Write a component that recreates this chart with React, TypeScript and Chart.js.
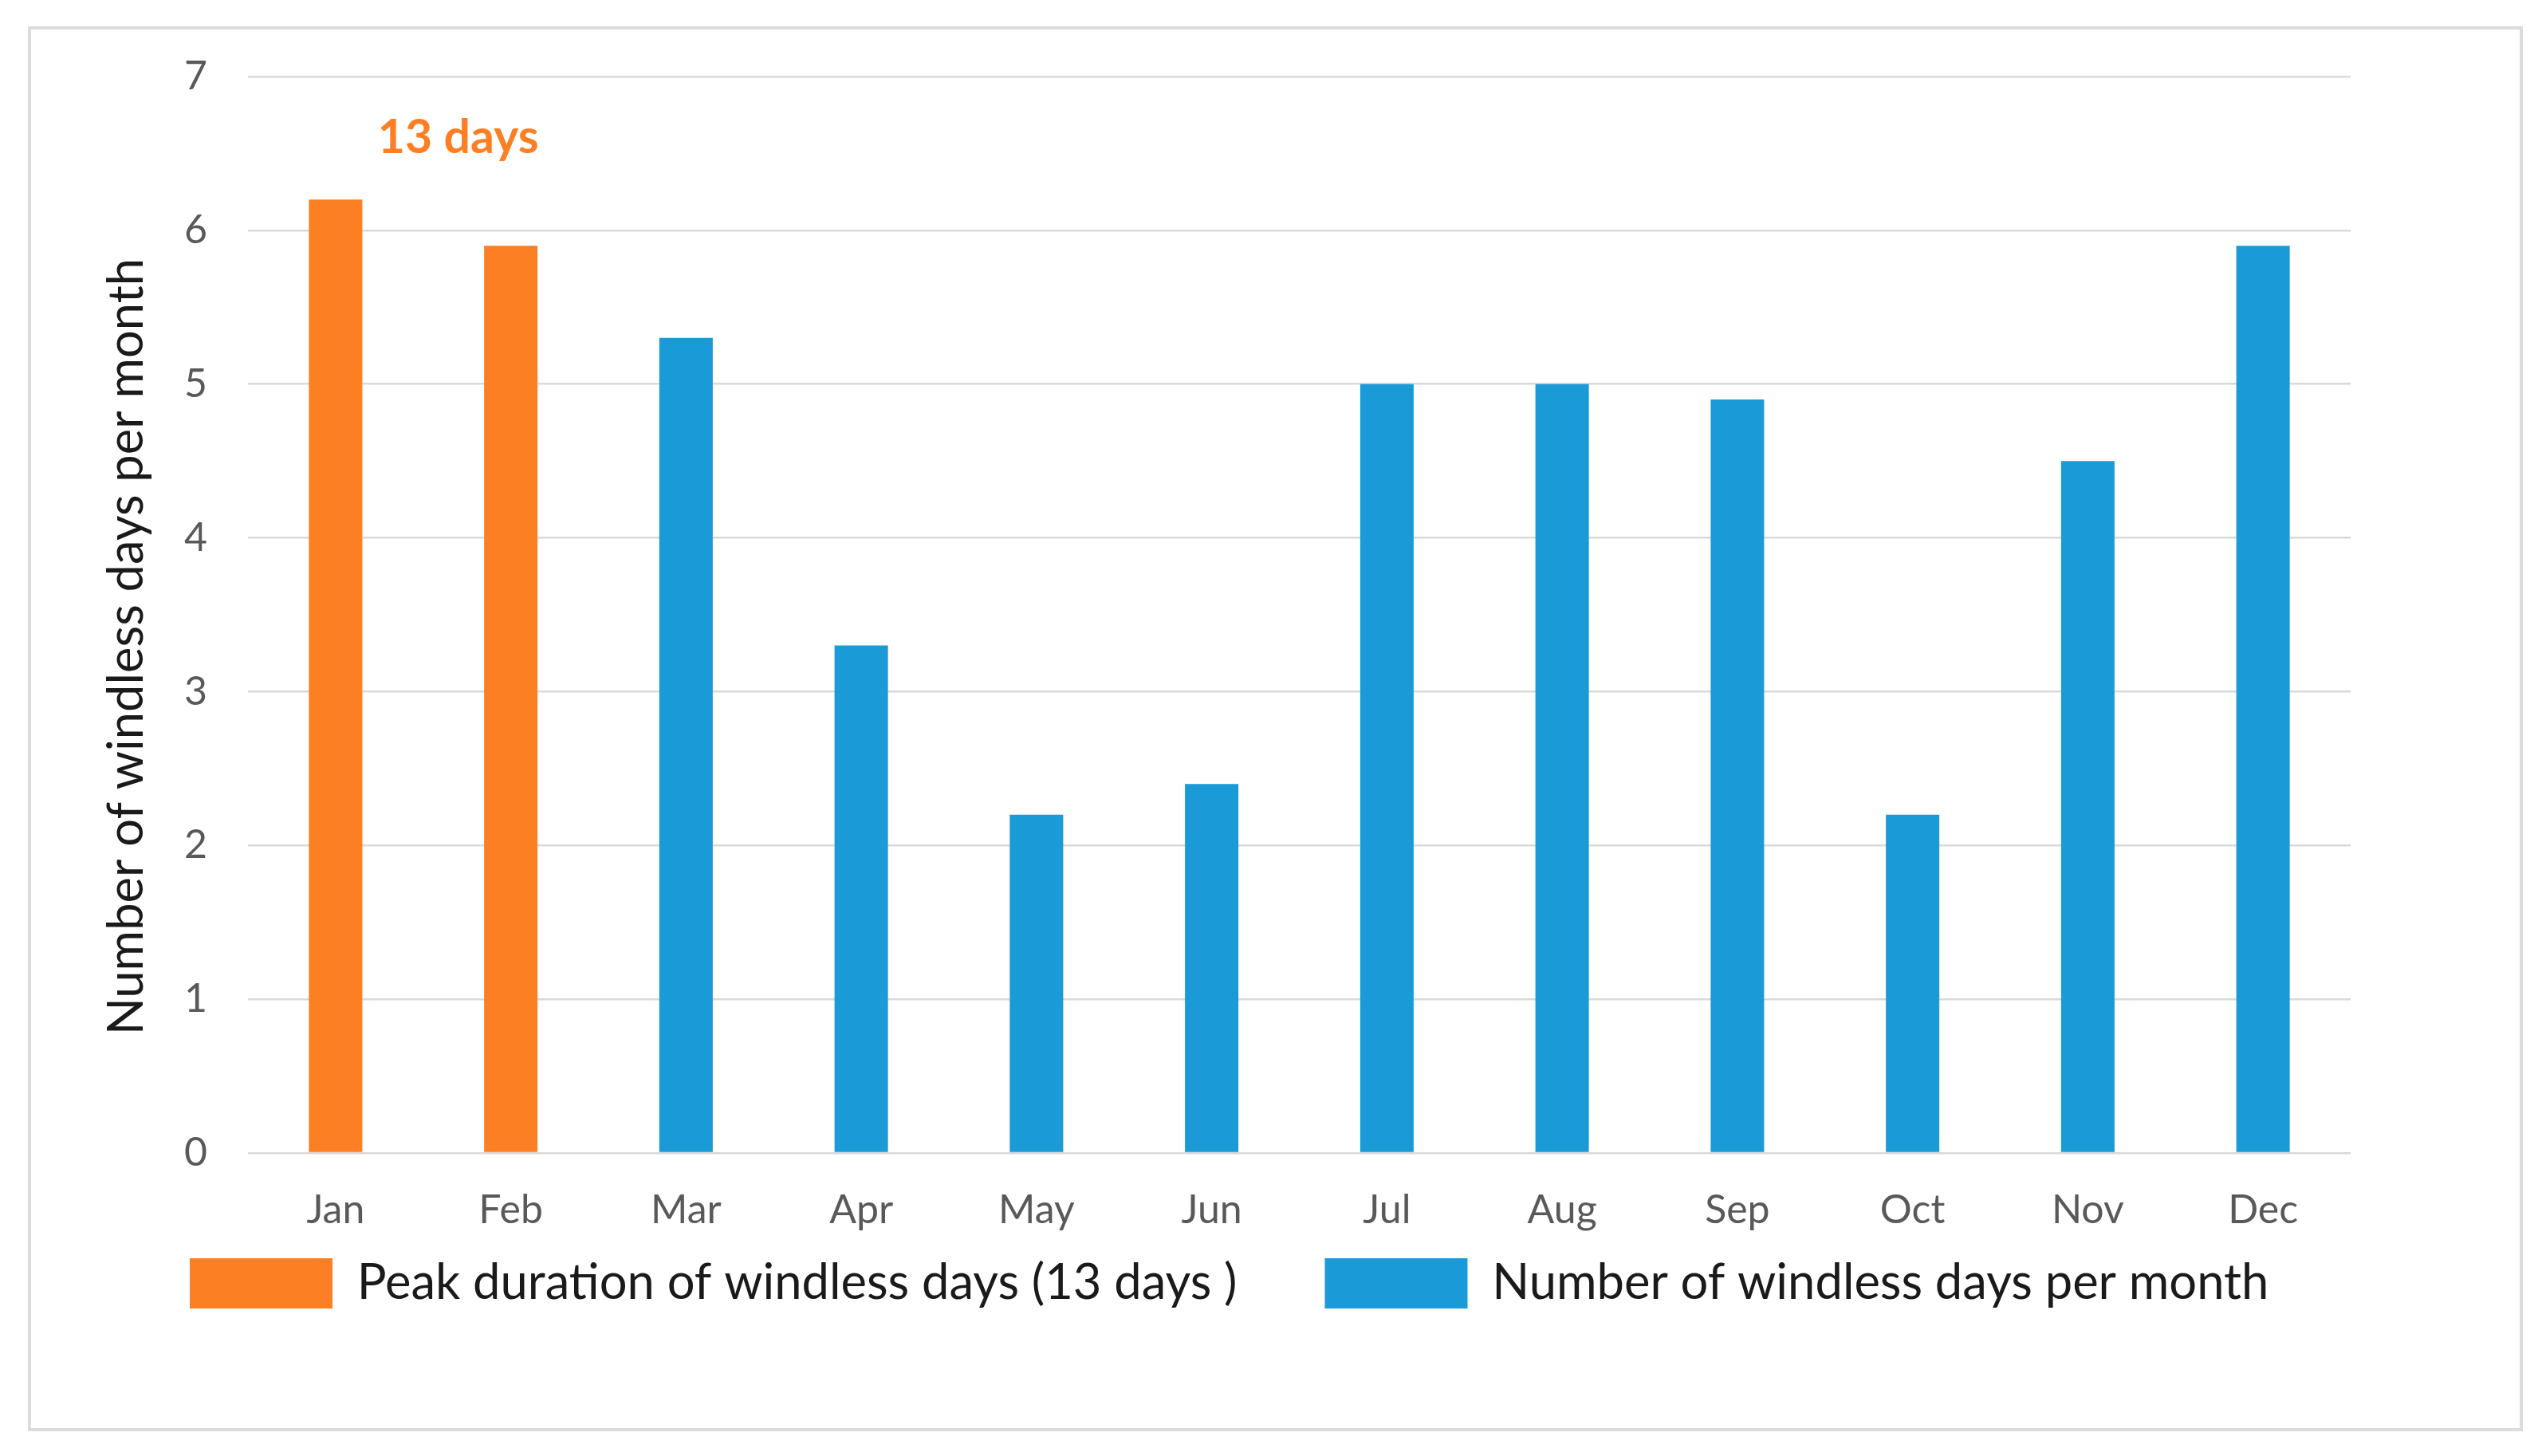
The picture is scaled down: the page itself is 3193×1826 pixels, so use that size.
import React, { useEffect, useRef } from "react";
import { Chart, registerables } from "chart.js";

Chart.register(...registerables);

const months = ["Jan", "Feb", "Mar", "Apr", "May", "Jun", "Jul", "Aug", "Sep", "Oct", "Nov", "Dec"];
const peakValues = [6.2, 5.9, null, null, null, null, null, null, null, null, null, null];
const monthlyValues = [null, null, 5.3, 3.3, 2.2, 2.4, 5.0, 5.0, 4.9, 2.2, 4.5, 5.9];
const peakLabel = "Peak duration of windless days (13 days )";
const monthlyLabel = "Number of windless days per month";
const yAxisTitle = "Number of windless days per month";
const yMin = 0;
const yMax = 7;
const yStep = 1;
const annotationText = "13 days";
const annotationIndex = 0.7;
const annotationValue = 6.6;

const ORANGE = "#FD7F24";
const BLUE = "#1A9AD6";
const FONT = "Lato, 'Open Sans', sans-serif";

const W = 3193;
const H = 1826;

export default function App() {
  const canvasRef = useRef<HTMLCanvasElement | null>(null);

  useEffect(() => {
    let chart: Chart | null = null;
    let cancelled = false;

    const textPlugin = {
      id: "extraText",
      afterDatasetsDraw(c: any) {
        const { ctx, scales, chartArea } = c;
        const x = scales.x;
        const y = scales.y;
        ctx.save();
        ctx.font = `bold 59px ${FONT}`;
        ctx.fillStyle = ORANGE;
        ctx.textAlign = "center";
        ctx.textBaseline = "middle";
        ctx.fillText(annotationText, x.getPixelForValue(annotationIndex), y.getPixelForValue(annotationValue));
        ctx.restore();

        // y-axis title (centred a little below the plot-area middle, as in the original)
        ctx.save();
        ctx.font = `61.5px ${FONT}`;
        ctx.fillStyle = "#1a1a1a";
        ctx.textAlign = "center";
        ctx.textBaseline = "middle";
        ctx.translate(y.left + 31, (chartArea.top + chartArea.bottom) / 2 + 40);
        ctx.rotate(-Math.PI / 2);
        ctx.fillText(yAxisTitle, 0, 0);
        ctx.restore();
      },
    };

    const build = () => {
      if (cancelled || !canvasRef.current) return;
      chart = new Chart(canvasRef.current, {
        type: "bar",
        data: {
          labels: months,
          datasets: [
            {
              label: peakLabel,
              data: peakValues,
              backgroundColor: ORANGE,
              borderColor: ORANGE,
              borderWidth: 0,
              grouped: false,
              categoryPercentage: 1,
              barPercentage: 0.305,
            } as any,
            {
              label: monthlyLabel,
              data: monthlyValues,
              backgroundColor: BLUE,
              borderColor: BLUE,
              borderWidth: 0,
              grouped: false,
              categoryPercentage: 1,
              barPercentage: 0.305,
            } as any,
          ],
        },
        options: {
          responsive: false,
          animation: false,
          devicePixelRatio: 1,
          layout: { padding: { top: 96, left: 128, right: 20, bottom: 175 } },
          plugins: {
            tooltip: { enabled: false },
            legend: {
              position: "bottom",
              align: "start",
              title: {
                display: true,
                text: "",
                font: { size: 1, lineHeight: 1 },
                padding: { top: 0, bottom: -89 },
              },
              labels: {
                boxWidth: 179,
                boxHeight: 63,
                padding: 110,
                color: "#1a1a1a",
                font: { family: FONT, size: 61.5 },
              },
            },
          },
          scales: {
            x: {
              grid: { display: false },
              border: { display: false },
              ticks: {
                color: "#595959",
                padding: 34,
                font: { family: FONT, size: 50 },
              },
              afterFit(s: any) {
                s.height = 110;
              },
            },
            y: {
              min: yMin,
              max: yMax,
              ticks: {
                stepSize: yStep,
                color: "#595959",
                padding: 51,
                font: { family: FONT, size: 50 },
              },
              grid: { color: "#D9D9D9", lineWidth: 2.5, drawTicks: false },
              border: { display: false },
              title: { display: false, text: yAxisTitle },
              afterFit(s: any) {
                s.width = 183;
              },
            },
            yRight: {
              type: "linear",
              position: "right",
              display: true,
              grid: { display: false },
              border: { display: false },
              ticks: { display: false },
              afterFit(s: any) {
                s.width = 225;
              },
            },
          },
        } as any,
        plugins: [textPlugin],
      });
    };

    if ((document as any).fonts && (document as any).fonts.load) {
      Promise.all([
        (document as any).fonts.load(`62px Lato`),
        (document as any).fonts.load(`bold 59px Lato`),
      ])
        .catch(() => null)
        .then(build);
    } else {
      build();
    }

    return () => {
      cancelled = true;
      if (chart) chart.destroy();
    };
  }, []);

  return (
    <div style={{ position: "absolute", left: 0, top: 0, width: W, height: H, background: "#fff" }}>
      <div
        style={{
          position: "absolute",
          left: 35,
          top: 33,
          width: 3129,
          height: 1762,
          border: "4px solid #DCDCDC",
          boxSizing: "border-box",
        }}
      />
      <canvas
        ref={canvasRef}
        width={W}
        height={H}
        style={{ position: "absolute", left: 0, top: 0, width: W, height: H }}
      />
    </div>
  );
}
